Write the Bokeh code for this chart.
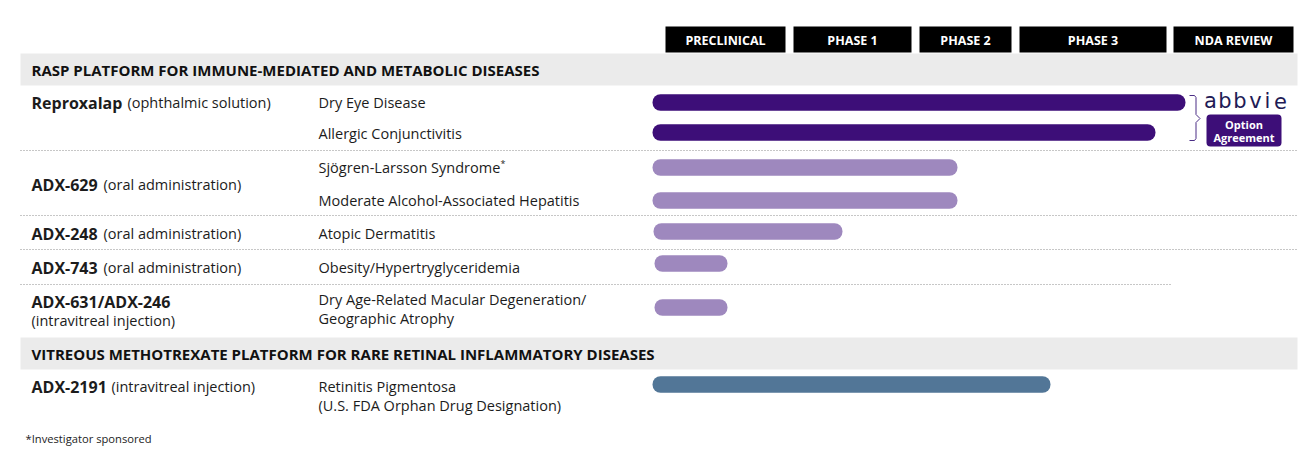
from bokeh.plotting import figure
from bokeh.models import Range1d, ColumnDataSource
from bokeh.core.properties import value
from bokeh.embed import file_html
from bokeh.resources import INLINE

# ---------------- data ----------------
phases = ["PRECLINICAL", "PHASE 1", "PHASE 2", "PHASE 3", "NDA REVIEW"]
platforms = ["RASP PLATFORM FOR IMMUNE-MEDIATED AND METABOLIC DISEASES",
             "VITREOUS METHOTREXATE PLATFORM FOR RARE RETINAL INFLAMMATORY DISEASES"]
programs = ["Reproxalap", "ADX-629", "ADX-248", "ADX-743", "ADX-631/ADX-246", "ADX-2191"]
routes = ["(ophthalmic solution)", "(oral administration)", "(oral administration)",
          "(oral administration)", "(intravitreal injection)", "(intravitreal injection)"]
indications = ["Dry Eye Disease", "Allergic Conjunctivitis", "Sjögren-Larsson Syndrome",
               "Moderate Alcohol-Associated Hepatitis", "Atopic Dermatitis",
               "Obesity/Hypertryglyceridemia",
               "Dry Age-Related Macular Degeneration/\nGeographic Atrophy",
               "Retinitis Pigmentosa\n(U.S. FDA Orphan Drug Designation)"]
# bar extent on the x scale (pipeline progress)
bar_start = [652, 652, 652, 652, 653, 654, 654, 652]
bar_end = [1185, 1155, 957, 957, 842, 727, 727, 1050]
bar_group = ["partner", "partner", "rasp", "rasp", "rasp", "rasp", "rasp", "vitreous"]
footnote = "*Investigator sponsored"
partner = "abbvie"
partner_note = ["Option", "Agreement"]

# ---------------- layout ----------------
phase_left = [665, 793, 919, 1019, 1173]
phase_right = [785, 911, 1011, 1166, 1293]
band_top = [53, 337]
program_y = [102, 184, 233, 267, 301, 386]
route_dx = [96, 72, 72, 72, None, 80]
row_y = [102, 132, 167, 200, 231, 263, 307, 384]
ind_y = [102, 133, 167, 200, 233, 267, 299, 386]
line_gap = 19
sep_y = [150, 215, 249, 284]
sep_x1 = [1297, 1297, 1297, 1170]
colors = {"partner": "#3d0e78", "rasp": "#9e88be", "vitreous": "#527697"}

FONT = value("Open Sans")
TXT = "#1c1c1c"

p = figure(width=1300, height=455, x_range=Range1d(0, 1300), y_range=Range1d(455, 0),
           output_backend="svg", toolbar_location=None, min_border=0,
           x_axis_type=None, y_axis_type=None)
p.grid.visible = False
p.outline_line_color = None
p.background_fill_color = "white"
p.border_fill_color = "white"

# header boxes
p.quad(left=phase_left, right=phase_right, top=[26] * 5, bottom=[52] * 5,
       fill_color="black", line_color=None)
p.text(x=[(a + b) / 2 for a, b in zip(phase_left, phase_right)], y=[39.5] * 5, text=phases,
       text_font=FONT, text_font_style="bold", text_font_size="12.5px", text_color="white",
       text_align="center", text_baseline="middle")

# platform bands
p.quad(left=[20, 20], right=[1297, 1297], top=band_top, bottom=[b + 32 for b in band_top],
       fill_color="#ebebeb", line_color=None)
p.text(x=[31, 31], y=[b + 16.5 for b in band_top], text=platforms, text_font=FONT,
       text_font_style="bold", text_font_size="15px", text_color="#111111",
       text_baseline="middle")

# separators
p.segment(x0=[20] * 4, x1=sep_x1, y0=sep_y, y1=sep_y, line_color="#8f8f8f",
          line_width=1, line_dash="1 2")

# program names
p.text(x=[31] * 6, y=program_y, text=programs, text_font=FONT, text_font_style="bold",
       text_font_size="16px", text_color=TXT, text_baseline="middle")
rx, ry = [], []
for i in range(len(routes)):
    if route_dx[i] is None:
        rx.append(31); ry.append(program_y[i] + line_gap)
    else:
        rx.append(31 + route_dx[i]); ry.append(program_y[i])
p.text(x=rx, y=ry, text=routes, text_font=FONT, text_font_size="14.5px", text_color=TXT,
       text_baseline="middle")

# indications (one text per line)
ix, iy, it = [], [], []
for i, ind in enumerate(indications):
    for k, line in enumerate(ind.split("\n")):
        ix.append(318); iy.append(ind_y[i] + k * line_gap); it.append(line)
p.text(x=ix, y=iy, text=it, text_font=FONT, text_font_size="14.5px", text_color=TXT,
       text_baseline="middle")
p.text(x=[500], y=[163], text=["*"], text_font=FONT, text_font_size="9px",
       text_color=TXT, text_baseline="middle")

# bars
src = ColumnDataSource(dict(y=row_y, left=bar_start, right=bar_end,
                            color=[colors[g] for g in bar_group]))
p.hbar(y="y", left="left", right="right", height=16.5, fill_color="color",
       line_color=None, border_radius=8, source=src)

# partner bracket + logo
p.line(x=[1189, 1194, 1195.5, 1195.5, 1199.5, 1195.5, 1195.5, 1194, 1189],
       y=[95, 95, 97, 114, 118, 122, 138, 140, 140], line_color="#4b2d85", line_width=1)
logo_x = [1210, 1224.5, 1239.5, 1255, 1267, 1280]
p.text(x=logo_x, y=[100] * 6, text=list(partner), text_font=value("DejaVu Sans"),
       text_font_size="21px", text_color="#211a55", text_align="center",
       text_baseline="middle")
p.quad(left=[1206], right=[1281], top=[114], bottom=[146], fill_color="#3d0e78",
       line_color=None, border_radius=4)
p.text(x=[1243.5, 1243.5], y=[123.5, 136.5], text=partner_note, text_font=FONT,
       text_font_style="bold", text_font_size="11px", text_color="white",
       text_align="center", text_baseline="middle")

# footnote
p.text(x=[25], y=[438], text=[footnote], text_font=FONT, text_font_size="11.2px",
       text_color=TXT, text_baseline="middle")

open("out.html", "w").write(file_html(p, INLINE))
